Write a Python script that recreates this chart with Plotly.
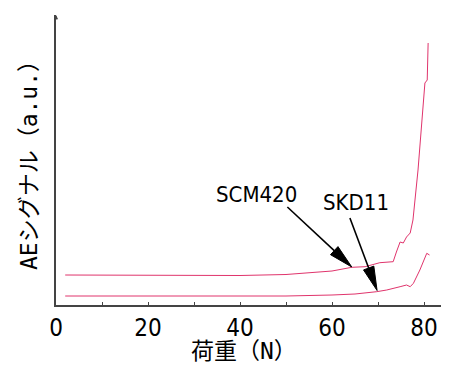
import math
import plotly.graph_objects as go

# Data (load in N, AE signal in arbitrary units)
scm420_load = [2, 10, 20, 30, 40, 50, 55, 60, 64.3, 67.2, 70.4, 73.3, 74.0, 74.8, 75.5, 76.2, 77.0, 77.6, 78.7, 79.8, 80.2, 80.7, 80.9]
scm420_ae   = [30, 30, 29.5, 29.5, 29.5, 30.5, 32, 34, 37.7, 38.3, 42.3, 43.3, 53, 63, 62, 68, 72, 85, 135, 205, 222, 225, 262]

skd11_load = [2, 10, 20, 30, 40, 50, 60, 65, 69.7, 71.9, 74.8, 76.2, 77.0, 77.7, 79.1, 80.6, 81.2]
skd11_ae   = [9, 9, 8.8, 8.8, 8.8, 9, 10, 11, 13.3, 15, 18.3, 20, 18.3, 21.7, 35, 51.7, 50]

x_tickvals = [0, 10, 20, 30, 40, 50, 60, 70, 80]
x_ticktext = ["0", "", "20", "", "40", "", "60", "", "80"]

# label / pointer placement (data coordinates): (text x, text y, tail x, tail y, tip x, tip y)
labels = [
    ("SCM420", 43.5, 111, 50.3, 98, 64.3, 38.0),
    ("SKD11", 65.2, 103, 63.9, 87, 69.8, 14.5),
]

X_RANGE = [0, 85]
Y_RANGE = [0, 290]
PLOT_W, PLOT_H = 391, 290  # plot area in pixels

line_color = "#e0346c"
font_fam = "DejaVu Sans Condensed, Liberation Sans, Noto Sans CJK JP"
title_fam = "DejaVu Sans Mono, Noto Sans CJK JP"

fig = go.Figure()
fig.add_trace(go.Scatter(x=scm420_load, y=scm420_ae, mode="lines",
                         line=dict(color=line_color, width=1), showlegend=False, hoverinfo="skip"))
fig.add_trace(go.Scatter(x=skd11_load, y=skd11_ae, mode="lines",
                         line=dict(color=line_color, width=1), showlegend=False, hoverinfo="skip"))

sx = PLOT_W / (X_RANGE[1] - X_RANGE[0])
sy = PLOT_H / (Y_RANGE[1] - Y_RANGE[0])
HEAD_LEN, HEAD_HALF_W = 24, 5.5

for text, tx, ty, x0, y0, x1, y1 in labels:
    fig.add_annotation(x=tx, y=ty, xref="x", yref="y", text=text, showarrow=False,
                       font=dict(family=font_fam, size=22, color="black"))
    dx, dy = (x1 - x0) * sx, (y1 - y0) * sy
    L = math.hypot(dx, dy)
    ux, uy = dx / L, dy / L
    bx, by = x1 * sx - HEAD_LEN * ux, y1 * sy - HEAD_LEN * uy
    nx, ny = -uy, ux
    hx = [x1, (bx + HEAD_HALF_W * nx) / sx, (bx - HEAD_HALF_W * nx) / sx, x1]
    hy = [y1, (by + HEAD_HALF_W * ny) / sy, (by - HEAD_HALF_W * ny) / sy, y1]
    fig.add_trace(go.Scatter(x=[x0, bx / sx], y=[y0, by / sy], mode="lines",
                             line=dict(color="black", width=1.6), showlegend=False, hoverinfo="skip"))
    fig.add_trace(go.Scatter(x=hx, y=hy, mode="lines", fill="toself", fillcolor="black",
                             line=dict(color="black", width=1), showlegend=False, hoverinfo="skip"))

# y axis arrow tip
fig.add_annotation(x=0, y=290, ax=0, ay=284, xref="x", yref="y", axref="x", ayref="y",
                   text="", showarrow=True, arrowhead=2, arrowsize=0.7, arrowwidth=1.2, arrowcolor="#444")
# axis titles
fig.add_annotation(x=0.48, y=-0.158, xref="paper", yref="paper", text="荷重（N）", showarrow=False,
                   xanchor="center", yanchor="middle",
                   font=dict(family=title_fam, size=23, color="black"))
fig.add_annotation(x=-0.069, y=0.5, xref="paper", yref="paper", text="AEシグナル（a.u.）", showarrow=False,
                   xanchor="center", yanchor="middle",
                   textangle=-90, font=dict(family=title_fam, size=23, color="black"))

# page body has an 8px default margin, so the figure is sized/offset accordingly
fig.update_layout(
    width=441, height=357,
    margin=dict(l=48, r=2, t=7, b=60, autoexpand=False),
    paper_bgcolor="white", plot_bgcolor="white",
    font=dict(family=font_fam, color="black"),
    xaxis=dict(range=X_RANGE, tickvals=x_tickvals, ticktext=x_ticktext,
               ticks="inside", ticklen=3, tickcolor="#444",
               showline=True, linecolor="#444", linewidth=1.5,
               showgrid=False, zeroline=False, automargin=False,
               tickfont=dict(size=24, family=font_fam)),
    yaxis=dict(range=Y_RANGE, showticklabels=False, ticks="",
               showline=True, linecolor="#444", linewidth=1.5,
               showgrid=False, zeroline=False, automargin=False),
)

fig.write_html("out.html")
